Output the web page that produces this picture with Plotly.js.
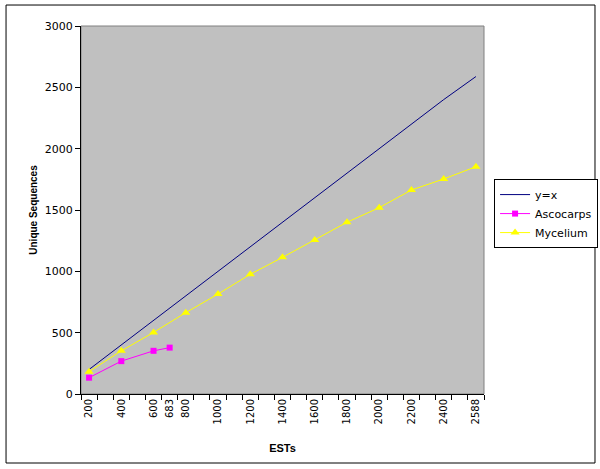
<!DOCTYPE html>
<html>
<head>
<meta charset="utf-8">
<script src="https://cdn.plot.ly/plotly-3.0.1.min.js"></script>
<style>
  html, body { margin: 0; padding: 0; background: #fff; }
  #chart { width: 600px; height: 469px; }
</style>
</head>
<body>
<div id="chart"></div>
<script>
// Category values along the x axis (ESTs)
const categories = ["200","300","400","500","600","683","800","900","1000","1100","1200","1300","1400","1500","1600","1700","1800","1900","2000","2100","2200","2300","2400","2500","2588"];
// Labels shown on the x axis
const tickLabels = ["200","400","600","683","800","1000","1200","1400","1600","1800","2000","2200","2400","2588"];

// y = x reference series
const yxX = ["200","400","600","800","1000","1200","1400","1600","1800","2000","2200","2400","2588"];
const yxValues = [200,400,600,800,1000,1200,1400,1600,1800,2000,2200,2400,2588];

// Ascocarps
const ascocarpsX = ["200","400","600","683"];
const ascocarpsY = [133,268,352,378];

// Mycelium
const myceliumX = ["200","400","600","800","1000","1200","1400","1600","1800","2000","2200","2400","2588"];
const myceliumY = [182,352,502,663,815,976,1114,1255,1400,1519,1663,1753,1853];

const idx = arr => arr.map(c => categories.indexOf(c));

const tickFontFamily = "DejaVu Sans, Verdana, sans-serif";
const titleFontFamily = "Liberation Sans, Arial, sans-serif";

const traces = [
  {
    name: "y=x", x: idx(yxX), y: yxValues, type: "scatter", mode: "lines",
    line: { color: "#000080", width: 1 }
  },
  {
    name: "Ascocarps", x: idx(ascocarpsX), y: ascocarpsY, type: "scatter", mode: "lines+markers",
    line: { color: "#FF00FF", width: 1 },
    marker: { symbol: "square", size: 6, color: "#FF00FF" }
  },
  {
    name: "Mycelium", x: idx(myceliumX), y: myceliumY, type: "scatter", mode: "lines+markers",
    line: { color: "#FFFF00", width: 1 },
    marker: { symbol: "triangle-up", size: 8, color: "#FFFF00" }
  }
];

const layout = {
  width: 600, height: 469,
  margin: { l: 81, r: 116, t: 26, b: 75, autoexpand: false },
  paper_bgcolor: "#ffffff",
  plot_bgcolor: "#C0C0C0",
  font: { family: tickFontFamily, size: 11, color: "#000" },
  showlegend: true,
  legend: {
    x: 1.025, xanchor: "left", y: 0.584, yanchor: "top",
    bordercolor: "#000", borderwidth: 1, bgcolor: "#fff",
    font: { family: tickFontFamily, size: 11, color: "#000" },
    tracegroupgap: 0
  },
  xaxis: {
    type: "linear",
    range: [-0.5, 24.5],
    tickmode: "array",
    tickvals: idx(tickLabels),
    ticktext: tickLabels,
    tickangle: -90,
    ticks: "",
    showgrid: false, zeroline: false,
    showline: true, linecolor: "#000", linewidth: 1,
    minor: { ticks: "outside", tickmode: "linear", tick0: -0.5, dtick: 1, ticklen: 5, tickcolor: "#000", tickwidth: 1, showgrid: false },
    tickfont: { family: tickFontFamily, size: 10, color: "#000" },
    title: { text: "<b>ESTs</b>", font: { family: titleFontFamily, size: 11, color: "#000" }, standoff: 20 }
  },
  yaxis: {
    range: [0, 3000],
    tickmode: "linear", tick0: 0, dtick: 500,
    ticks: "outside", ticklen: 5, tickcolor: "#000",
    showgrid: false, zeroline: false,
    showline: true, linecolor: "#000", linewidth: 1,
    tickfont: { family: tickFontFamily, size: 11, color: "#000" },
    title: { text: "<b>Unique Sequences</b>", font: { family: titleFontFamily, size: 10, color: "#000" }, standoff: 5 }
  },
  shapes: [
    { type: "rect", xref: "paper", yref: "paper", x0: 0, x1: 1, y0: 0, y1: 1,
      line: { color: "#808080", width: 1 }, fillcolor: "rgba(0,0,0,0)", layer: "below" },
    { type: "rect", xref: "paper", yref: "paper", x0: -0.186, x1: 1.2754, y0: -0.1875, y1: 1.057,
      line: { color: "#000", width: 1 }, fillcolor: "rgba(0,0,0,0)", layer: "above" }
  ]
};

Plotly.newPlot("chart", traces, layout, { displayModeBar: false, staticPlot: true });
</script>
</body>
</html>
